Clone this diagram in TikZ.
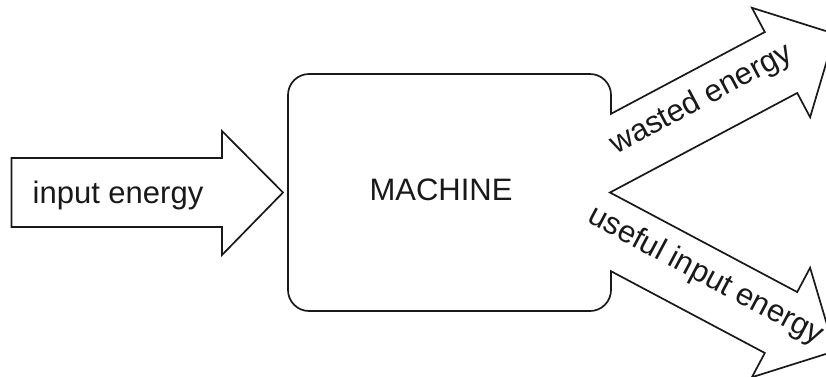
\documentclass[tikz,border=0pt]{standalone}
\usepackage{fontspec}
\setmainfont{Liberation Sans}
\usetikzlibrary{calc}
\begin{document}
\begin{tikzpicture}[x=1pt,y=1pt,
  outline/.style={draw=black!90,line width=1.7pt,line join=miter,fill=white},
  label/.style={font=\fontsize{31}{37}\selectfont,text=black!90,inner sep=0pt}]
\useasboundingbox (0,0) rectangle (826,-376);
\clip (0,0) rectangle (826,-376);

% input arrow
\draw[outline] (11.5,-158) -- (222,-158) -- (222,-131) -- (283,-192.5)
  -- (222,-255) -- (222,-227) -- (11.5,-227) -- cycle;

% base centres of the two output arrow heads
\coordinate (wb) at (781,-62.5);
\coordinate (ub) at (781,-322.5);

% machine box merged with the two output arrows
\draw[outline] (309,-74) -- (590,-74) arc(90:0:21) -- (611,-113.8)
  -- ($(wb)+(118:34.5)$) -- ($(wb)+(118:62)$) -- ($(wb)+(28:61)$)
  -- ($(wb)+(-62:62)$) -- ($(wb)+(-62:34.5)$)
  -- (610,-192.5)
  -- ($(ub)+(62:34.5)$) -- ($(ub)+(62:62)$) -- ($(ub)+(-28:61)$)
  -- ($(ub)+(-118:62)$) -- ($(ub)+(-118:34.5)$)
  -- (611,-271.2) -- (611,-290) arc(0:-90:21) -- (309,-311)
  arc(-90:-180:21) -- (288,-95) arc(180:90:21) -- cycle;

% labels
\node[label,anchor=base] (inp) at (118,-203) {input energy};
\node[label,anchor=base] (mach) at (441,-200) {MACHINE};
\node[label,anchor=mid,rotate=28] (waste) at (704,-104.5) {wasted energy};
\node[label,anchor=mid,rotate=-28] (useful) at (703,-281) {useful input energy};
\end{tikzpicture}
\end{document}
